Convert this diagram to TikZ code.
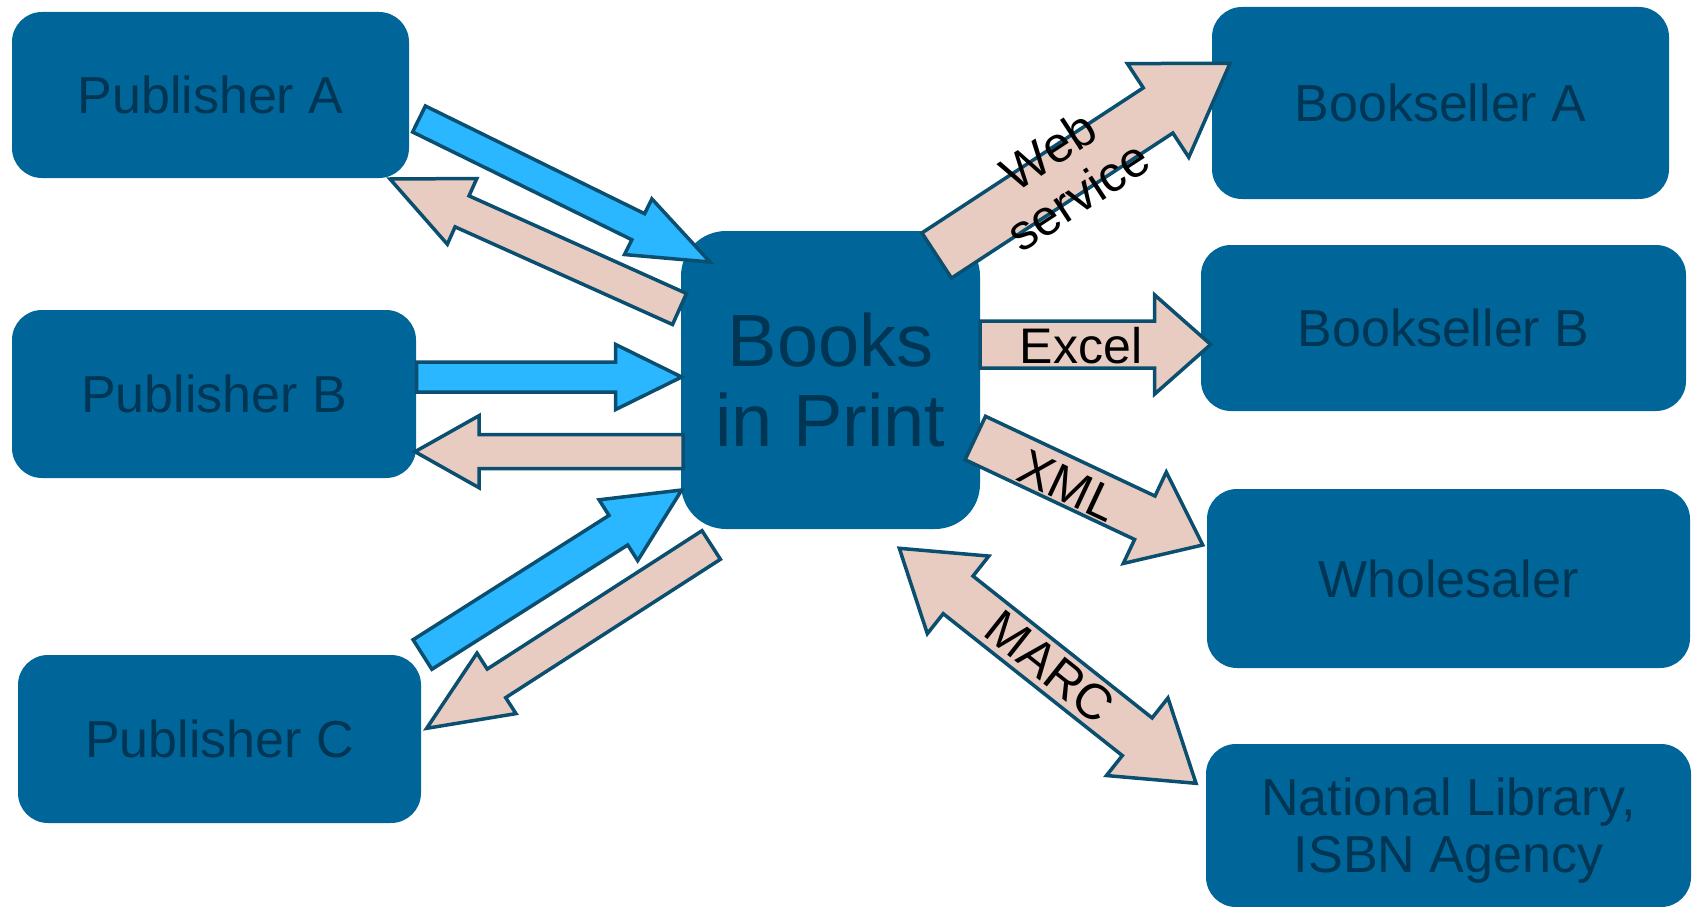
\documentclass[tikz,border=0pt]{standalone}
\usepackage{fontspec}
\setmainfont{Liberation Sans}
\usetikzlibrary{calc}
\definecolor{boxfill}{RGB}{0,102,153}
\definecolor{boxtext}{RGB}{0,54,84}
\definecolor{arrowblue}{RGB}{43,183,255}
\definecolor{arrowpink}{RGB}{232,204,193}
\definecolor{arrowedge}{RGB}{10,78,112}
\tikzset{
  party/.style={rectangle, rounded corners=30pt, fill=boxfill, text=boxtext,
    font=\fontsize{52}{57}\selectfont, align=center, inner sep=0pt, text depth=0pt},
  hub/.style={party, rounded corners=45pt, font=\fontsize{74}{80}\selectfont},
  arrowline/.style={draw=arrowedge, line width=3.5pt, line join=miter},
  bluearrow/.style={arrowline, fill=arrowblue},
  pinkarrow/.style={arrowline, fill=arrowpink},
  flowlabel/.style={text=black, font=\fontsize{50}{54}\selectfont, align=center, inner sep=0pt},
}
% #1 style, #2 tail coordinate, #3 tip coordinate, #4 half shaft width, #5 half head width, #6 head length
\newcommand\blockarrow[6]{%
  \coordinate (ba-n) at ($#3!#6!#2$);
  \draw[#1] ($#2!#4!90:#3$) -- ($(ba-n)!#4!90:#3$) -- ($(ba-n)!#5!90:#3$) -- #3
    -- ($(ba-n)!#5!-90:#3$) -- ($(ba-n)!#4!-90:#3$) -- ($#2!#4!-90:#3$) -- cycle;
}
% double-headed: #2 and #3 are both tips
\newcommand\dblblockarrow[6]{%
  \coordinate (ba-n) at ($#3!#6!#2$);
  \coordinate (ba-m) at ($#2!#6!#3$);
  \draw[#1] #2 -- ($(ba-m)!#5!90:#3$) -- ($(ba-m)!#4!90:#3$) -- ($(ba-n)!#4!90:#3$)
    -- ($(ba-n)!#5!90:#3$) -- #3 -- ($(ba-n)!#5!-90:#3$) -- ($(ba-n)!#4!-90:#3$)
    -- ($(ba-m)!#4!-90:#3$) -- ($(ba-m)!#5!-90:#3$) -- cycle;
}
\begin{document}
\begin{tikzpicture}[x=1pt,y=-1pt]
\useasboundingbox (0,0) rectangle (1692,907);
% boxes
\node[party, minimum width=397pt, minimum height=166pt] (pubA) at (210.5,95) {Publisher A};
\node[party, minimum width=404pt, minimum height=168pt] (pubB) at (214,394) {Publisher B};
\node[party, minimum width=403pt, minimum height=168pt] (pubC) at (219.5,739) {Publisher C};
\node[hub, minimum width=299pt, minimum height=298pt] (bip) at (830.5,380) {Books\\in Print};
\node[party, minimum width=457pt, minimum height=192pt] (bsA) at (1440.5,103) {Bookseller A};
\node[party, minimum width=485pt, minimum height=166pt] (bsB) at (1443.5,328) {Bookseller B};
\node[party, minimum width=483pt, minimum height=179pt] (whs) at (1448.5,578.5) {Wholesaler};
\node[party, minimum width=485pt, minimum height=163pt] (natlib) at (1448.5,825.5) {National Library,\\ISBN Agency};
% arrow end points
\coordinate (pa-in-s) at (419,119);    \coordinate (pa-in-t) at (710,262);
\coordinate (pa-out-s) at (679.5,309); \coordinate (pa-out-t) at (390,179);
\coordinate (pb-in-s) at (416.7,377);  \coordinate (pb-in-t) at (681.7,377);
\coordinate (pb-out-s) at (683,451.7); \coordinate (pb-out-t) at (415,451.7);
\coordinate (pc-in-s) at (422.5,654.5);\coordinate (pc-in-t) at (681.7,490);
\coordinate (pc-out-s) at (711.2,545); \coordinate (pc-out-t) at (426.7,728.3);
\coordinate (web-s) at (936.7,255.5);  \coordinate (web-t) at (1230,63.3);
\coordinate (xls-s) at (980,344.5);    \coordinate (xls-t) at (1210.7,344.5);
\coordinate (xml-s) at (975.3,438);    \coordinate (xml-t) at (1202.7,545);
\coordinate (marc-a) at (899.3,548.3); \coordinate (marc-b) at (1196,783.3);
% arrows
\blockarrow{bluearrow}{(pa-in-s)}{(pa-in-t)}{14.5pt}{31pt}{80pt}
\blockarrow{pinkarrow}{(pa-out-s)}{(pa-out-t)}{17pt}{36pt}{79pt}
\blockarrow{bluearrow}{(pb-in-s)}{(pb-in-t)}{15pt}{32.5pt}{66pt}
\blockarrow{pinkarrow}{(pb-out-s)}{(pb-out-t)}{17pt}{36pt}{64pt}
\blockarrow{bluearrow}{(pc-in-s)}{(pc-in-t)}{17.5pt}{36pt}{75pt}
\blockarrow{pinkarrow}{(pc-out-s)}{(pc-out-t)}{17pt}{36pt}{83pt}
\blockarrow{pinkarrow}{(web-s)}{(web-t)}{27pt}{56pt}{86pt}
\blockarrow{pinkarrow}{(xls-s)}{(xls-t)}{23.5pt}{49.5pt}{56pt}
\blockarrow{pinkarrow}{(xml-s)}{(xml-t)}{24pt}{50.5pt}{64pt}
\dblblockarrow{pinkarrow}{(marc-a)}{(marc-b)}{24pt}{49.5pt}{75pt}
% labels
\node[flowlabel, rotate=33.2] (lweb) at (1063,173) {Web\\service};
\node[flowlabel] (lxls) at (1081,345.5) {Excel};
\node[flowlabel, rotate=-25.2] (lxml) at (1068,486) {XML};
\node[flowlabel, rotate=-38.4] (lmarc) at (1050,667) {MARC};
\end{tikzpicture}
\end{document}
